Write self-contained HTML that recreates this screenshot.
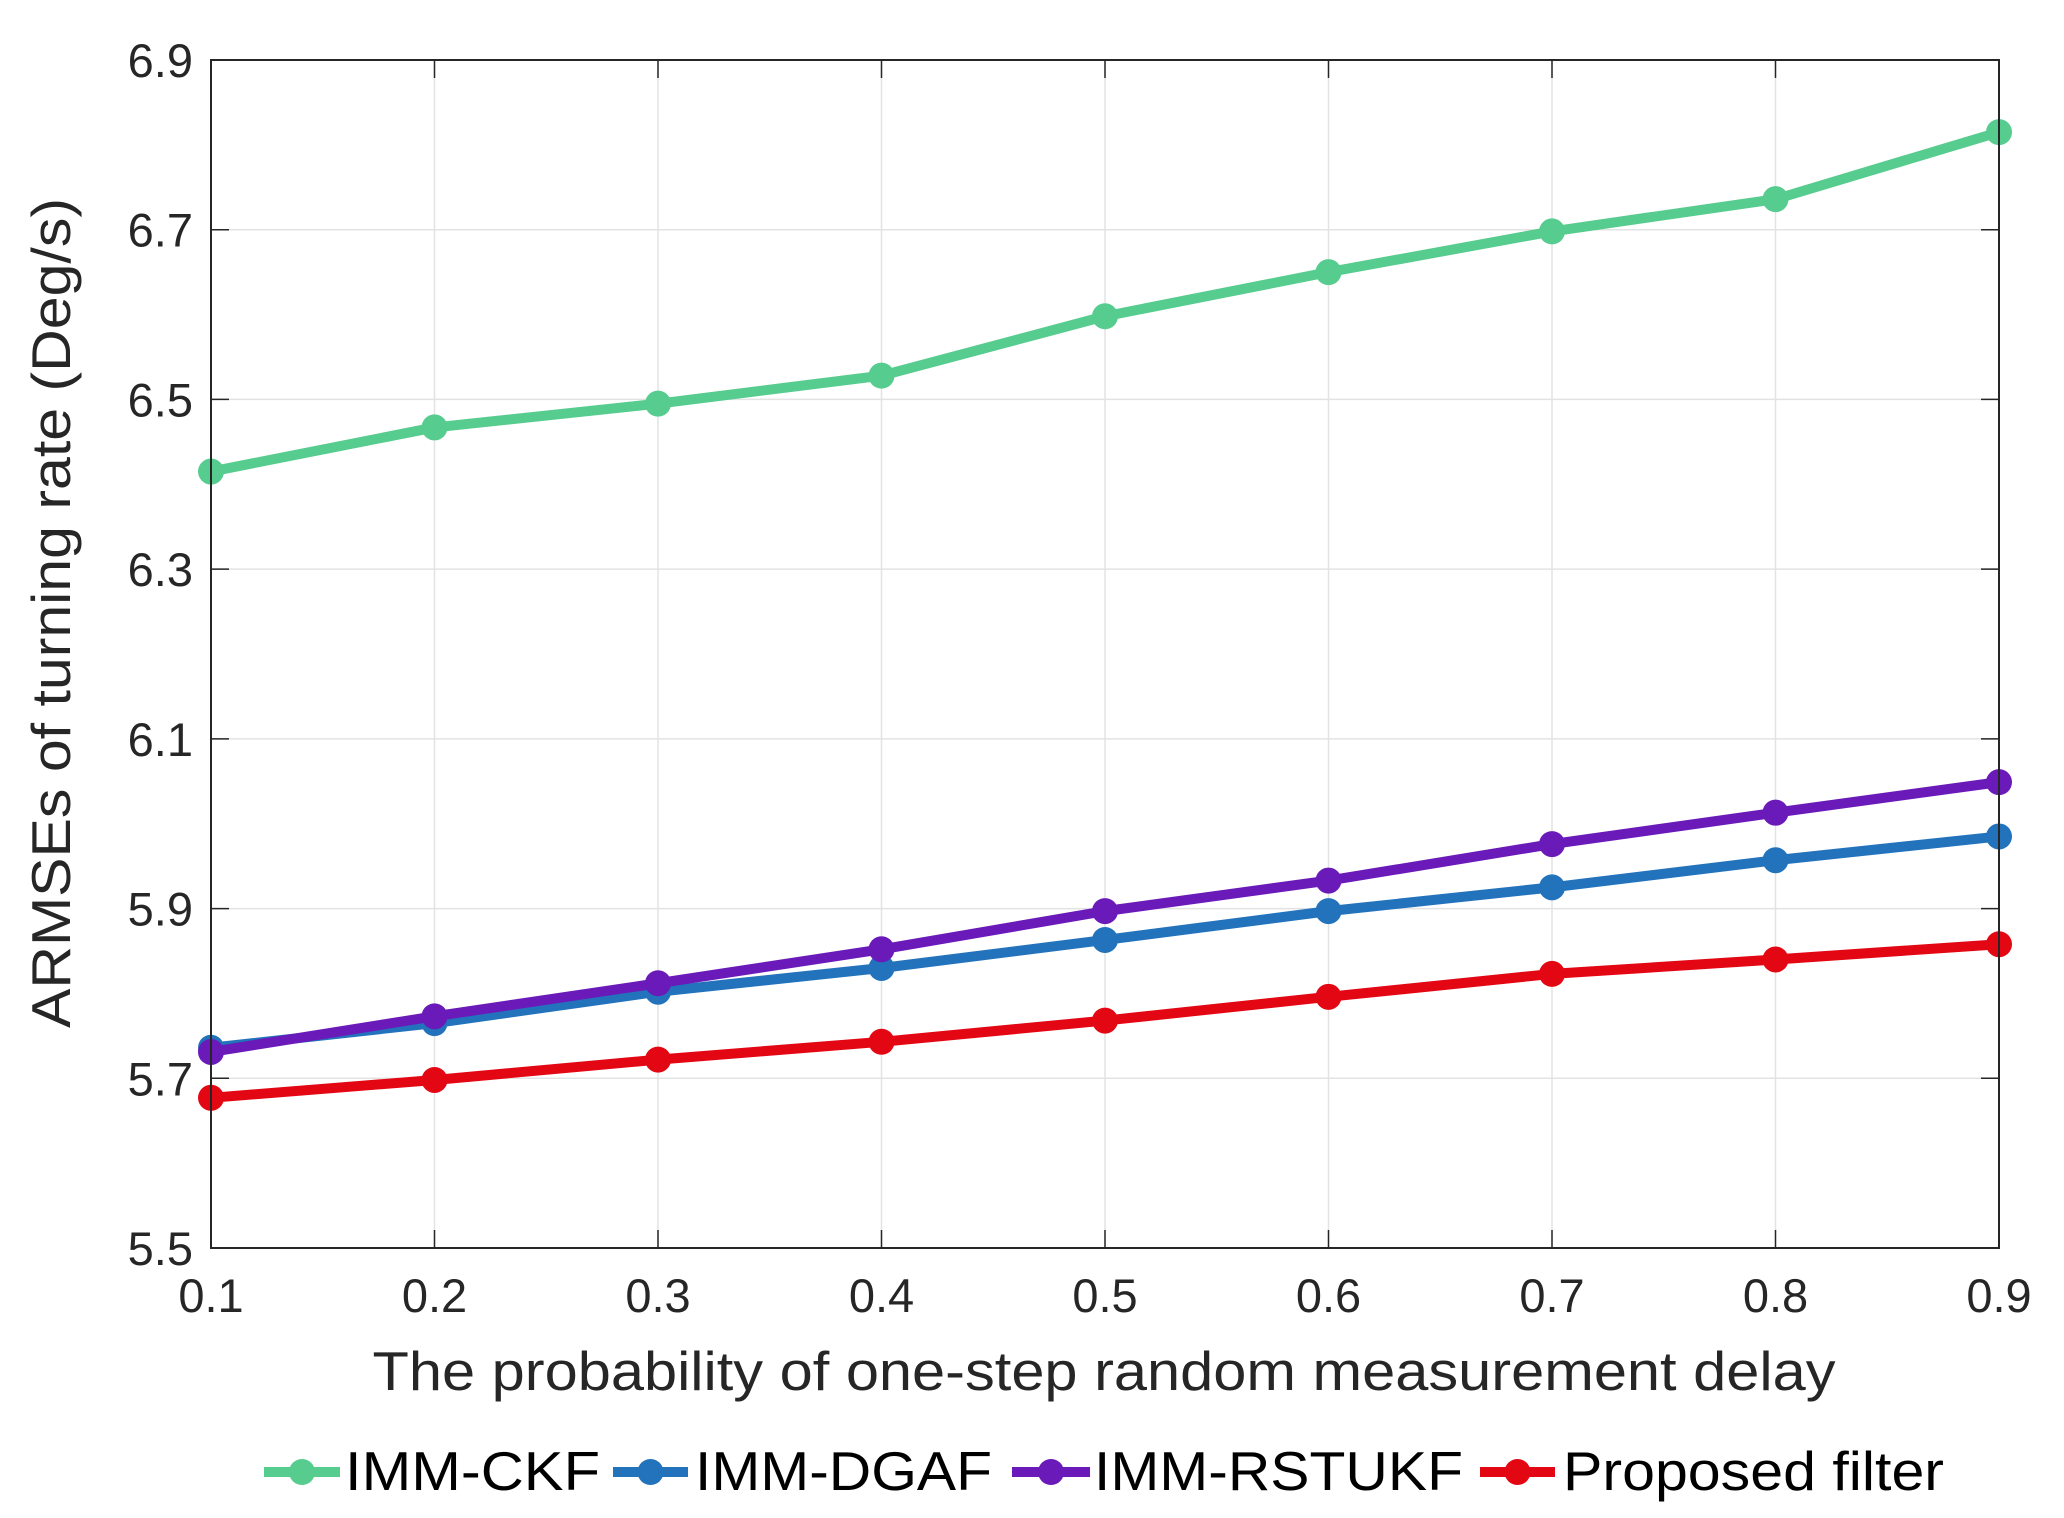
<!DOCTYPE html>
<html><head><meta charset="utf-8"><style>
html,body{margin:0;padding:0;background:#fff;}
svg{display:block;font-family:"Liberation Sans",Arial,sans-serif;}
</style></head><body>
<svg id="chart" width="2064" height="1518" viewBox="0 0 2064 1518" xmlns="http://www.w3.org/2000/svg">
<rect x="0" y="0" width="2064" height="1518" fill="#fff"/>
<g id="grid"></g>
<g id="series"></g>
<g id="axes"></g>
<text x="1104" y="1390" text-anchor="middle" font-size="55" fill="#262626" textLength="1463" lengthAdjust="spacingAndGlyphs">The probability of one-step random measurement delay</text>
<text transform="translate(70,613) rotate(-90)" text-anchor="middle" font-size="55" fill="#262626" textLength="830" lengthAdjust="spacingAndGlyphs">ARMSEs of turning rate (Deg/s)</text>
<g id="legend"></g>
</svg>
<script>
const xValues = [0.1,0.2,0.3,0.4,0.5,0.6,0.7,0.8,0.9];
const ckf = [6.415,6.467,6.495,6.528,6.598,6.650,6.698,6.736,6.815];
const dgaf = [5.736,5.765,5.802,5.830,5.863,5.897,5.925,5.957,5.985];
const rstukf = [5.731,5.773,5.812,5.852,5.897,5.933,5.976,6.013,6.049];
const proposed = [5.677,5.698,5.722,5.743,5.768,5.796,5.823,5.840,5.858];
const seriesNames = ["IMM-CKF","IMM-DGAF","IMM-RSTUKF","Proposed filter"];
const xTicks = [0.1,0.2,0.3,0.4,0.5,0.6,0.7,0.8,0.9];
const yTicks = [5.5,5.7,5.9,6.1,6.3,6.5,6.7,6.9];

const NS="http://www.w3.org/2000/svg";
const L=211,R=1999,T=60,B=1248;
const xMin=0.1,xMax=0.9,yMin=5.5,yMax=6.9;
const sx=v=>L+(v-xMin)/(xMax-xMin)*(R-L);
const sy=v=>B-(v-yMin)/(yMax-yMin)*(B-T);
function mk(tag,attrs,parent){const e=document.createElementNS(NS,tag);for(const k in attrs)e.setAttribute(k,attrs[k]);parent.appendChild(e);return e;}
const grid=document.getElementById('grid'),axes=document.getElementById('axes'),sg=document.getElementById('series'),lg=document.getElementById('legend');

xTicks.forEach((t,i)=>{
  const x=sx(t);
  const g=mk('line',{x1:x,x2:x,y1:T,y2:B,stroke:'#e3e3e3','stroke-width':1.5},grid);
  
  
  const tk=mk('line',{x1:x,x2:x,y1:B,y2:B-18,stroke:'#262626','stroke-width':1.5},axes);
  
  
  const tk2=mk('line',{x1:x,x2:x,y1:T,y2:T+18,stroke:'#262626','stroke-width':1.5},axes);
  
  
  const lb=mk('text',{x:x,y:1312,'text-anchor':'middle','font-size':47,fill:'#262626'},axes);
  
  
  lb.textContent=t.toFixed(1);
});
yTicks.forEach(t=>{
  const y=sy(t);
  const g=mk('line',{x1:L,x2:R,y1:y,y2:y,stroke:'#e3e3e3','stroke-width':1.5},grid);
  
  
  const tk=mk('line',{x1:L,x2:L+18,y1:y,y2:y,stroke:'#262626','stroke-width':1.5},axes);
  
  
  const tk2=mk('line',{x1:R,x2:R-18,y1:y,y2:y,stroke:'#262626','stroke-width':1.5},axes);
  
  
  const lb=mk('text',{x:193,y:y+17,'text-anchor':'end','font-size':47,fill:'#262626'},axes);
  
  
  lb.textContent=t.toFixed(1);
});
const box=mk('rect',{x:L,y:T,width:R-L,height:B-T,fill:'none',stroke:'#262626','stroke-width':2},axes);



const allSeries=[ckf,dgaf,rstukf,proposed];
const colors=['#57cc8f','#2272bc','#6a1ab8','#e30613'];
const slugs=['imm-ckf','imm-dgaf','imm-rstukf','proposed-filter'];
allSeries.forEach((vals,si)=>{
  const pts=vals.map((v,i)=>sx(xValues[i])+','+sy(v)).join(' ');
  const pl=mk('polyline',{points:pts,fill:'none',stroke:colors[si],'stroke-width':10,'stroke-linejoin':'round'},sg);
  
  
  vals.forEach((v,i)=>{
    const c=mk('circle',{cx:sx(xValues[i]),cy:sy(v),r:13,fill:colors[si]},sg);
    
    
  });
});

const legLine=[[264,340],[613,688],[1012,1090],[1480,1555]];
const legText=[[345,255],[695,297],[1094,369],[1563,381]];
const ly=1472;
seriesNames.forEach((n,i)=>{
  const ln=mk('line',{x1:legLine[i][0],x2:legLine[i][1],y1:ly,y2:ly,stroke:colors[i],'stroke-width':10},lg);
  
  
  const c=mk('circle',{cx:(legLine[i][0]+legLine[i][1])/2,cy:ly,r:13,fill:colors[i]},lg);
  
  
  const t=mk('text',{x:legText[i][0],y:1490,'font-size':55,fill:'#000',textLength:legText[i][1],lengthAdjust:'spacingAndGlyphs'},lg);
  
  
  t.textContent=n;
});
</script>
</body></html>
